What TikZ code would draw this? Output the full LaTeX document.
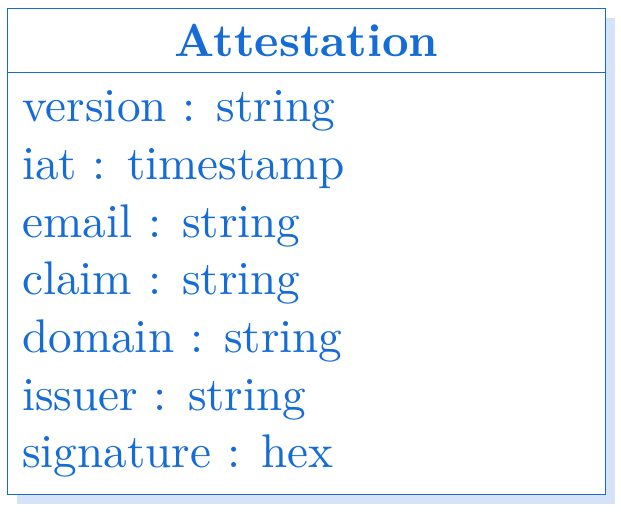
\documentclass[tikz,border=0pt]{standalone}
\usepackage{fontspec}
\setmainfont{lmroman10-regular}[Extension=.otf, BoldFont=lmroman10-bold]
\definecolor{umlblue}{RGB}{21,108,214}
\definecolor{shadowblue}{RGB}{212,227,247}
\tikzset{
  attr/.style={anchor=base west, inner sep=0pt, text=umlblue, font=\fontsize{47.2}{57.7}\selectfont},
  titletext/.style={anchor=base, inner sep=0pt, text=umlblue, font=\fontsize{46.3}{57.7}\selectfont\bfseries},
  frame/.style={draw=umlblue, line width=1.2pt},
}
\begin{document}
\begin{tikzpicture}[x=1pt,y=1pt]
\useasboundingbox (0,0) rectangle (621,-512);
\fill[shadowblue] (16.5,-18) rectangle (614.5,-504);
\fill[white] (6.5,-8) rectangle (604.5,-494);
\node[frame, minimum width=598pt, minimum height=486pt, anchor=north west, inner sep=0pt] (box) at (6.5,-8) {};
\coordinate (hl) at (6.5,-72.7);
\coordinate (hr) at (604.5,-72.7);
\draw[frame] (hl) -- (hr);
\node[titletext] (title) at (306.5,-56.7) {Attestation};
\node[attr] (a1) at (22,-121.7) {version : string};
\node[attr] (a2) at (22,-179.4) {iat : timestamp};
\node[attr] (a3) at (22,-237.1) {email : string};
\node[attr] (a4) at (22,-294.8) {claim : string};
\node[attr] (a5) at (22,-352.5) {domain : string};
\node[attr] (a6) at (22,-410.2) {issuer : string};
\node[attr] (a7) at (22,-467.9) {signature : hex};
\end{tikzpicture}
\end{document}
